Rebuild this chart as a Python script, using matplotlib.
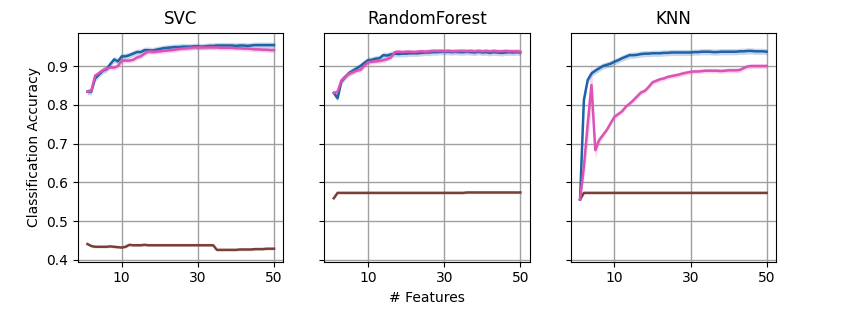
import numpy as np
from matplotlib import pyplot as plt

# number of features
n_feat = np.arange(1, 51)

# SVC
svc_blue = [0.834, 0.834, 0.868, 0.878, 0.888, 0.892, 0.905, 0.917, 0.912, 0.925,
            0.925, 0.928, 0.932, 0.936, 0.936, 0.941, 0.941, 0.940, 0.942, 0.944,
            0.946, 0.947, 0.948, 0.949, 0.949, 0.950, 0.950, 0.950, 0.951, 0.951,
            0.950, 0.951, 0.952, 0.952, 0.953, 0.953, 0.953, 0.953, 0.953, 0.952,
            0.953, 0.953, 0.952, 0.953, 0.954, 0.954, 0.954, 0.954, 0.954, 0.954]
svc_pink = [0.834, 0.836, 0.875, 0.882, 0.889, 0.894, 0.896, 0.896, 0.900, 0.914,
            0.914, 0.914, 0.916, 0.922, 0.925, 0.932, 0.938, 0.937, 0.937, 0.938,
            0.939, 0.940, 0.941, 0.942, 0.944, 0.945, 0.946, 0.947, 0.948, 0.948,
            0.948, 0.948, 0.948, 0.948, 0.948, 0.947, 0.947, 0.947, 0.947, 0.946,
            0.946, 0.945, 0.945, 0.944, 0.943, 0.943, 0.942, 0.942, 0.941, 0.941]
svc_brown = [0.441, 0.436, 0.434, 0.434, 0.434, 0.434, 0.435, 0.434, 0.433, 0.432,
             0.434, 0.439, 0.438, 0.438, 0.438, 0.439, 0.438, 0.438, 0.438, 0.438,
             0.438, 0.438, 0.438, 0.438, 0.438, 0.438, 0.438, 0.438, 0.438, 0.438,
             0.438, 0.438, 0.438, 0.438, 0.426, 0.426, 0.426, 0.426, 0.426, 0.426,
             0.427, 0.427, 0.427, 0.427, 0.428, 0.428, 0.428, 0.429, 0.429, 0.429]

# RandomForest
rf_blue = [0.831, 0.817, 0.860, 0.872, 0.882, 0.888, 0.894, 0.900, 0.908, 0.915,
           0.916, 0.919, 0.920, 0.928, 0.927, 0.930, 0.932, 0.931, 0.932, 0.932,
           0.933, 0.933, 0.933, 0.934, 0.935, 0.935, 0.936, 0.936, 0.937, 0.937,
           0.937, 0.936, 0.937, 0.936, 0.936, 0.937, 0.936, 0.935, 0.937, 0.935,
           0.936, 0.934, 0.936, 0.935, 0.934, 0.935, 0.936, 0.935, 0.936, 0.935]
rf_pink = [0.830, 0.834, 0.863, 0.873, 0.880, 0.884, 0.888, 0.890, 0.900, 0.910,
           0.911, 0.912, 0.913, 0.915, 0.918, 0.922, 0.936, 0.937, 0.936, 0.937,
           0.937, 0.936, 0.937, 0.938, 0.937, 0.938, 0.939, 0.939, 0.939, 0.938,
           0.939, 0.938, 0.938, 0.939, 0.939, 0.938, 0.939, 0.938, 0.939, 0.938,
           0.939, 0.938, 0.939, 0.938, 0.938, 0.939, 0.938, 0.938, 0.938, 0.937]
rf_brown = [0.559] + [0.573] * 34 + [0.574] * 15

# KNN
knn_blue = [0.556, 0.812, 0.864, 0.881, 0.888, 0.894, 0.900, 0.903, 0.906, 0.911,
            0.915, 0.920, 0.924, 0.928, 0.928, 0.929, 0.931, 0.932, 0.932, 0.933,
            0.933, 0.933, 0.934, 0.934, 0.935, 0.935, 0.935, 0.935, 0.935, 0.935,
            0.936, 0.936, 0.937, 0.937, 0.937, 0.936, 0.936, 0.937, 0.937, 0.937,
            0.937, 0.937, 0.938, 0.938, 0.939, 0.939, 0.938, 0.938, 0.938, 0.937]
knn_pink = [0.556, 0.640, 0.750, 0.851, 0.683, 0.709, 0.722, 0.735, 0.752, 0.769,
            0.776, 0.783, 0.795, 0.803, 0.812, 0.822, 0.832, 0.836, 0.846, 0.858,
            0.862, 0.866, 0.868, 0.872, 0.874, 0.876, 0.878, 0.881, 0.883, 0.885,
            0.886, 0.886, 0.887, 0.888, 0.888, 0.888, 0.888, 0.887, 0.888, 0.889,
            0.889, 0.889, 0.890, 0.895, 0.899, 0.900, 0.900, 0.900, 0.900, 0.900]
knn_brown = [0.556] + [0.573] * 49

# half-width of the shaded bands
blue_sd = 0.008
pink_sd = 0.006
brown_sd = 0.003
knn_pink_sd_start = [0.004, 0.03, 0.05, 0.06, 0.02, 0.01]

titles = ['SVC', 'RandomForest', 'KNN']
blues = [svc_blue, rf_blue, knn_blue]
pinks = [svc_pink, rf_pink, knn_pink]
browns = [svc_brown, rf_brown, knn_brown]

c_blue = '#1f62a8'
c_pink = '#dd52b5'
c_brown = '#7a4038'

fig, axes = plt.subplots(1, 3, figsize=(8.68, 3.16), dpi=100, sharey=True)
fig.subplots_adjust(left=0.090, right=0.894, bottom=0.172, top=0.8965, wspace=0.2)

for i, ax in enumerate(axes):
    b = np.array(blues[i])
    p = np.array(pinks[i])
    r = np.array(browns[i])
    psd = np.full(len(n_feat), pink_sd)
    if i == 2:
        psd[:len(knn_pink_sd_start)] = knn_pink_sd_start

    ax.fill_between(n_feat, r - brown_sd, r + brown_sd, color=c_brown, alpha=0.25, lw=0)
    ax.plot(n_feat, r, color=c_brown, lw=1.8)
    ax.fill_between(n_feat, b - blue_sd, b + blue_sd, color=c_blue, alpha=0.25, lw=0)
    ax.plot(n_feat, b, color=c_blue, lw=1.8)
    ax.fill_between(n_feat, p - psd, p + psd, color=c_pink, alpha=0.25, lw=0)
    ax.plot(n_feat, p, color=c_pink, lw=1.8)

    ax.set_title(titles[i], fontsize=12)
    ax.set_xticks([10, 30, 50])
    ax.grid(True, color='#a0a0a0', lw=1)
    ax.set_axisbelow(True)

axes[0].set_ylim(0.3956, 0.986)
axes[0].set_yticks([0.4, 0.5, 0.6, 0.7, 0.8, 0.9])
axes[0].set_ylabel('Classification Accuracy')
axes[1].set_xlabel('# Features')

plt.savefig('out.png')
